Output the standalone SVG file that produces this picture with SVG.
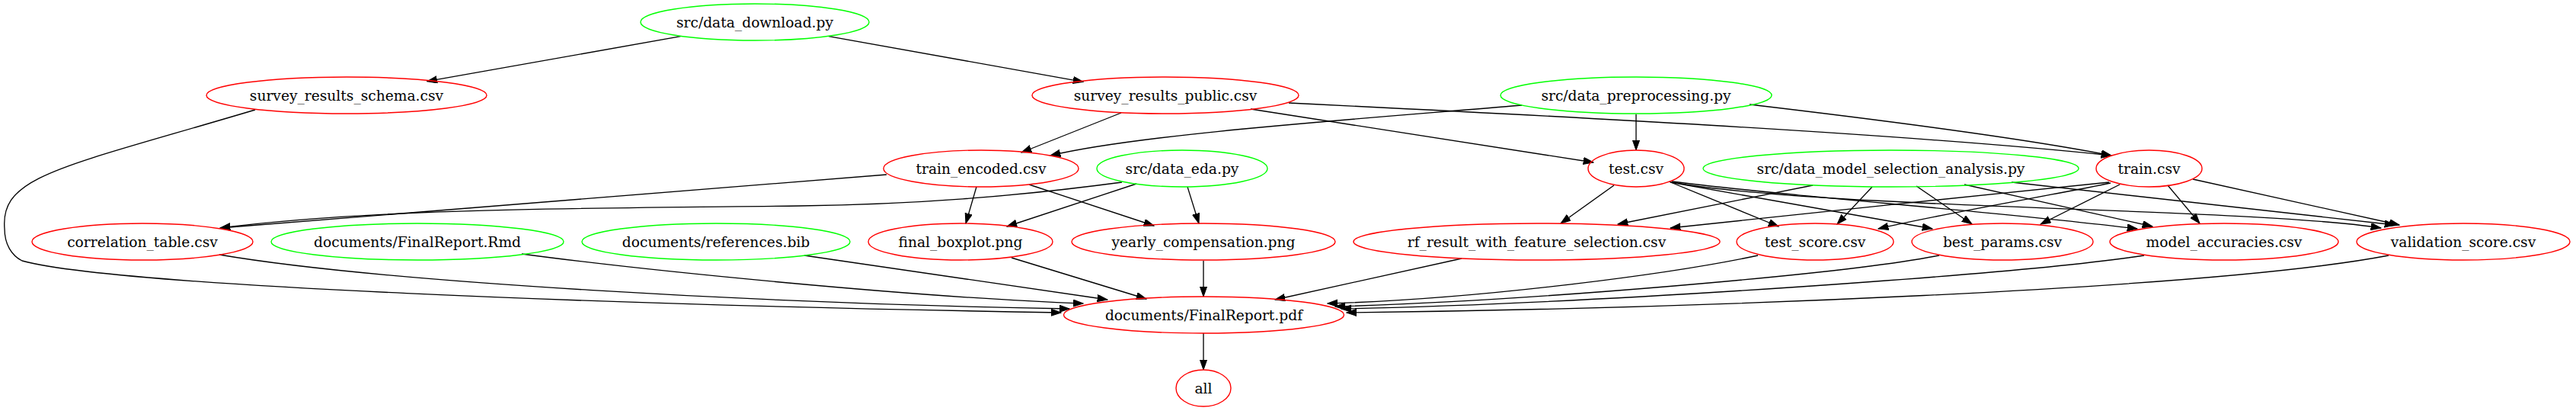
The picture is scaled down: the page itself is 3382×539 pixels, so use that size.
<svg xmlns="http://www.w3.org/2000/svg" width="3382" height="539" viewBox="0 0 3382 539">
<style>
.n ellipse{fill:none;stroke-width:1.4}
.r ellipse{stroke:#ff0000}
.g ellipse{stroke:#00ff00}
.n text{font-family:"DejaVu Serif",serif;font-size:18.67px;text-anchor:middle;fill:#000}
#edges path{fill:none;stroke:#000;stroke-width:1.33;marker-end:url(#ah)}
</style>
<defs>
<marker id="ah" markerUnits="userSpaceOnUse" markerWidth="14" markerHeight="10" refX="13.3" refY="4.67" orient="auto" viewBox="0 0 14 10">
<path d="M0,0 L13.3,4.67 L0,9.33 z" fill="#000" stroke="#000" stroke-width="1"/>
</marker>
</defs>
<rect width="3382" height="539" fill="#fff"/>
<g id="edges">
<path d="M893.6,47.7 L560.7,106.7"/>
<path d="M1088,47.7 L1422,107.3"/>
<path d="M335,144 C 80,220 0,230 6,300 C 6,320 15,335 29,342 C 150,375 800,400 1393,410"/>
<path d="M1472,148 L1341,200"/>
<path d="M1642,143 L2092,213"/>
<path d="M1692,135 C 2000,150 2500,175 2772,204"/>
<path d="M1998,138 C 1800,155 1500,175 1379,204"/>
<path d="M2148,150 L2148,197"/>
<path d="M2297,137 C 2450,155 2650,180 2772,204"/>
<path d="M1164,229 L289,299"/>
<path d="M1473,239 C 1330,258 1200,268 1050,270 C 800,273 500,272 289,299"/>
<path d="M1282,245 L1268,293"/>
<path d="M1351,242 L1515,296"/>
<path d="M1492,241 L1322,297"/>
<path d="M1559,245 L1574,293"/>
<path d="M2119,243 L2049,293"/>
<path d="M2191,238 L2335,297"/>
<path d="M2193,239 L2537,300"/>
<path d="M2195,238 C 2350,258 2600,275 2806,300"/>
<path d="M2195,239 C 2400,275 2950,272 3126,299"/>
<path d="M2380,243 L2124,294"/>
<path d="M2458,245 L2412,294"/>
<path d="M2516,244 L2589,294"/>
<path d="M2579,242 L2826,297"/>
<path d="M2641,239 L3144,295"/>
<path d="M2769,239 C 2600,256 2350,282 2193,299"/>
<path d="M2771,240 C 2700,255 2550,280 2466,300"/>
<path d="M2783,242 L2679,294"/>
<path d="M2846,243 L2888,293"/>
<path d="M2879,235 L3150,295"/>
<path d="M288,334 C 500,370 1000,398 1404,405"/>
<path d="M685,333 C 850,355 1200,390 1422,398"/>
<path d="M1056,335 L1454,393"/>
<path d="M1328,338 L1505,392"/>
<path d="M1580,342 L1580,389"/>
<path d="M1919,339 L1674,393"/>
<path d="M2308,335 C 2200,358 1950,392 1743,398"/>
<path d="M2546,335 C 2420,360 2000,395 1753,402"/>
<path d="M2815,335 C 2650,360 2100,398 1761,405"/>
<path d="M3136,335 C 2900,380 2200,405 1768,410"/>
<path d="M1580,437 L1580,485"/>
</g>
<g id="n_download" class="n g"><ellipse cx="991" cy="29" rx="150" ry="24"/><text x="991" y="35.5">src/data_download.py</text></g>
<g id="n_schema" class="n r"><ellipse cx="455" cy="125" rx="184" ry="24"/><text x="455" y="131.5">survey_results_schema.csv</text></g>
<g id="n_public" class="n r"><ellipse cx="1530" cy="125" rx="175" ry="24"/><text x="1530" y="131.5">survey_results_public.csv</text></g>
<g id="n_preproc" class="n g"><ellipse cx="2148" cy="125" rx="178" ry="24"/><text x="2148" y="131.5">src/data_preprocessing.py</text></g>
<g id="n_train_encoded" class="n r"><ellipse cx="1288" cy="221" rx="128" ry="24"/><text x="1288" y="227.5">train_encoded.csv</text></g>
<g id="n_eda" class="n g"><ellipse cx="1552" cy="221" rx="112" ry="24"/><text x="1552" y="227.5">src/data_eda.py</text></g>
<g id="n_test" class="n r"><ellipse cx="2148" cy="221" rx="63" ry="24"/><text x="2148" y="227.5">test.csv</text></g>
<g id="n_msa" class="n g"><ellipse cx="2482.5" cy="221" rx="246.5" ry="24"/><text x="2482.5" y="227.5">src/data_model_selection_analysis.py</text></g>
<g id="n_train" class="n r"><ellipse cx="2821.5" cy="221" rx="69.5" ry="24"/><text x="2821.5" y="227.5">train.csv</text></g>
<g id="n_corr" class="n r"><ellipse cx="187" cy="317" rx="145" ry="24"/><text x="187" y="323.5">correlation_table.csv</text></g>
<g id="n_rmd" class="n g"><ellipse cx="548" cy="317" rx="192" ry="24"/><text x="548" y="323.5">documents/FinalReport.Rmd</text></g>
<g id="n_bib" class="n g"><ellipse cx="940" cy="317" rx="176" ry="24"/><text x="940" y="323.5">documents/references.bib</text></g>
<g id="n_boxplot" class="n r"><ellipse cx="1261" cy="317" rx="121" ry="24"/><text x="1261" y="323.5">final_boxplot.png</text></g>
<g id="n_yearly" class="n r"><ellipse cx="1580" cy="317" rx="173" ry="24"/><text x="1580" y="323.5">yearly_compensation.png</text></g>
<g id="n_rf" class="n r"><ellipse cx="2017.5" cy="317" rx="240.5" ry="24"/><text x="2017.5" y="323.5">rf_result_with_feature_selection.csv</text></g>
<g id="n_test_score" class="n r"><ellipse cx="2383" cy="317" rx="103" ry="24"/><text x="2383" y="323.5">test_score.csv</text></g>
<g id="n_best_params" class="n r"><ellipse cx="2629" cy="317" rx="119" ry="24"/><text x="2629" y="323.5">best_params.csv</text></g>
<g id="n_model_acc" class="n r"><ellipse cx="2920" cy="317" rx="150" ry="24"/><text x="2920" y="323.5">model_accuracies.csv</text></g>
<g id="n_validation" class="n r"><ellipse cx="3234" cy="317" rx="140" ry="24"/><text x="3234" y="323.5">validation_score.csv</text></g>
<g id="n_pdf" class="n r"><ellipse cx="1580.5" cy="413" rx="184" ry="24"/><text x="1580.5" y="419.5">documents/FinalReport.pdf</text></g>
<g id="n_all" class="n r"><ellipse cx="1580" cy="509" rx="36" ry="24"/><text x="1580" y="515.5">all</text></g>
</svg>
